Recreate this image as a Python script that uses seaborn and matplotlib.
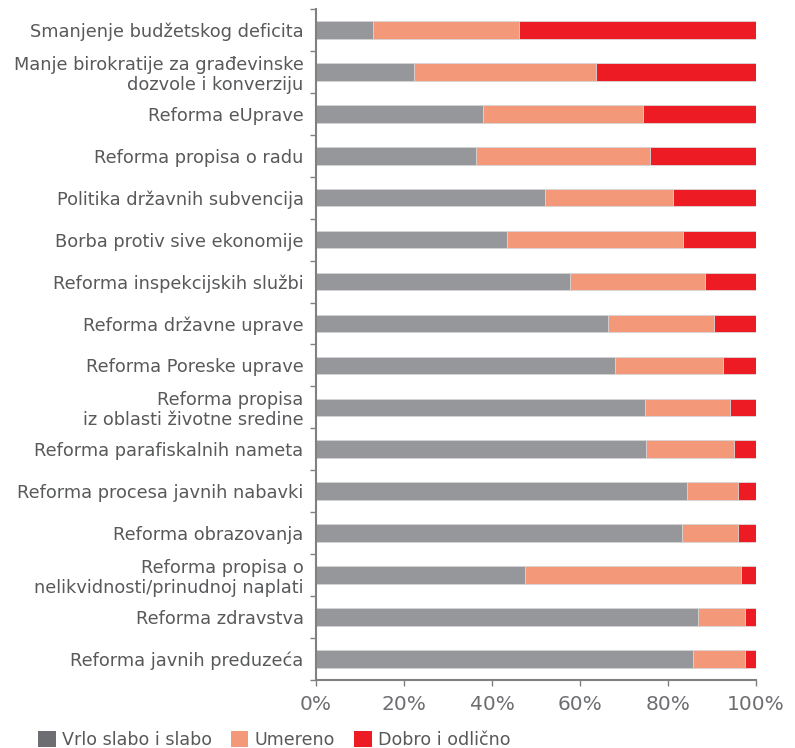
import numpy as np
import pandas as pd
import seaborn as sns
from matplotlib import pyplot as plt
from matplotlib.patches import Patch

categories = [
    "Smanjenje budžetskog deficita",
    "Manje birokratije za građevinske\ndozvole i konverziju",
    "Reforma eUprave",
    "Reforma propisa o radu",
    "Politika državnih subvencija",
    "Borba protiv sive ekonomije",
    "Reforma inspekcijskih službi",
    "Reforma državne uprave",
    "Reforma Poreske uprave",
    "Reforma propisa\niz oblasti životne sredine",
    "Reforma parafiskalnih nameta",
    "Reforma procesa javnih nabavki",
    "Reforma obrazovanja",
    "Reforma propisa o\nnelikvidnosti/prinudnoj naplati",
    "Reforma zdravstva",
    "Reforma javnih preduzeća",
]
# procenti po kategoriji
slabo = [13, 22.3, 38, 36.3, 52, 43.4, 57.7, 66.4, 68, 74.8, 75, 84.3, 83.2, 47.5, 86.8, 85.7]
umereno = [33.2, 41.3, 36.2, 39.5, 29.1, 39.9, 30.8, 24.0, 24.6, 19.3, 20.1, 11.7, 12.7, 49.1, 10.7, 11.8]
dobro = [100 - a - b for a, b in zip(slabo, umereno)]

series_names = ["Vrlo slabo i slabo", "Umereno", "Dobro i odlično"]
colors = ["#96979b", "#f4987a", "#ed1c24"]
legend_colors = ["#6d6e71", "#f4987a", "#ed1c24"]

df = pd.DataFrame({"cat": categories, "s": slabo, "u": umereno, "d": dobro})
df["cum_s"] = df["s"]
df["cum_u"] = df["s"] + df["u"]
df["cum_d"] = df["cum_u"] + df["d"]

fig = plt.figure(figsize=(7.95, 7.48), dpi=100)
ax = fig.add_axes([0.3975, 0.091, 0.5535, 0.897])

# crtamo od najduzeg ka najkracem da bi se slozili
for col, c in zip(["cum_d", "cum_u", "cum_s"], colors[::-1]):
    sns.barplot(data=df, x=col, y="cat", orient="h", color=c, width=0.42,
                saturation=1, edgecolor="#d9d9da", linewidth=0.6, ax=ax)

ax.set_xlim(0, 100)
ax.set_ylim(15.5, -0.5)
ax.set_xlabel("")
ax.set_ylabel("")

txt = "#58595b"
ax.set_xticks([0, 20, 40, 60, 80, 100])
ax.set_xticklabels(["0%", "20%", "40%", "60%", "80%", "100%"], fontsize=14.5, color="#6d6e71")
ax.tick_params(axis="x", length=4, width=1, color="#808080", pad=7)

ax.set_yticks(range(len(categories)))
ax.set_yticklabels(categories, fontsize=12.75, color=txt, linespacing=1.15)
ax.tick_params(axis="y", which="major", length=0, pad=9)
ax.set_yticks(np.arange(-0.5, 16, 1), minor=True)
ax.tick_params(axis="y", which="minor", length=4, width=1, color="#808080")

for s in ["top", "right"]:
    ax.spines[s].set_visible(False)
for s in ["left", "bottom"]:
    ax.spines[s].set_color("#808080")
    ax.spines[s].set_linewidth(1.5)

handles = [Patch(facecolor=c, edgecolor="none") for c in legend_colors]
fig.legend(handles, series_names, loc="lower left", bbox_to_anchor=(0.028, -0.022),
           ncol=3, frameon=False, fontsize=12.6, handlelength=1.0, handleheight=1.0,
           handletextpad=0.35, columnspacing=1.1, labelcolor=txt)

fig.savefig("out.png", dpi=100)
